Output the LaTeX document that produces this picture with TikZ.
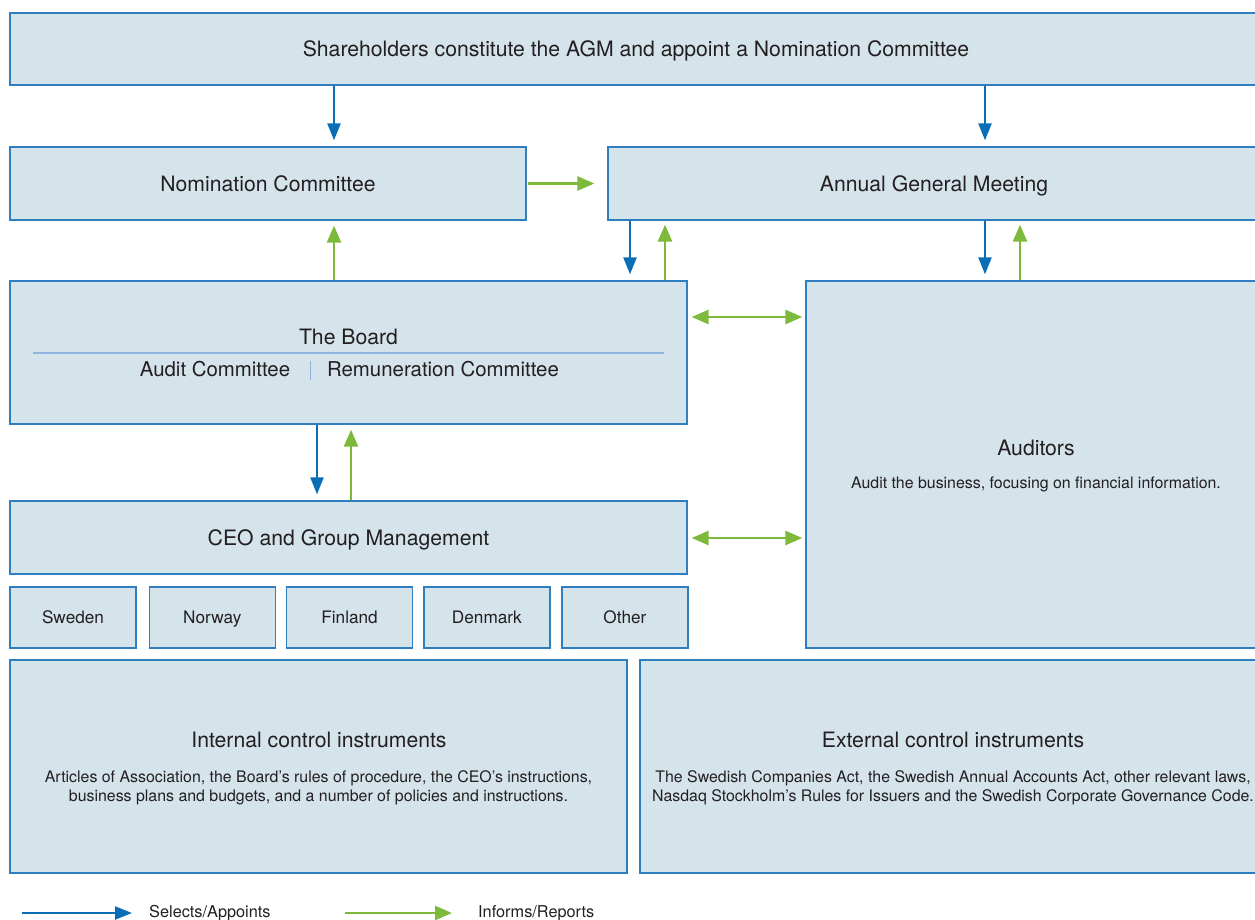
\documentclass[tikz,border=0pt]{standalone}
\usepackage{fontspec}
\setmainfont{TeX Gyre Heros}
\usetikzlibrary{arrows.meta,positioning}
\definecolor{gfill}{HTML}{D5E3EB}
\definecolor{gline}{HTML}{2E7EC0}
\definecolor{gblue}{HTML}{0A6EB7}
\definecolor{ggreen}{HTML}{7DBA3C}
\definecolor{gtext}{HTML}{231F20}
\definecolor{gsep}{HTML}{8DB4DE}

\begin{document}
\begin{tikzpicture}[x=1pt,y=-1pt, every node/.style={text=gtext,align=center,inner sep=0pt,text depth=0pt,font=\fontsize{21.2}{25}\selectfont}, box/.style={draw=gline,fill=gfill,line width=1.3pt}, land/.style={box,minimum width=126pt,minimum height=61pt,font=\fontsize{17.2}{20}\selectfont}, small/.style={font=\fontsize{15.9}{19.5}\selectfont}, para/.style={small,text depth={}}, sel/.style={-{Triangle[length=17pt,width=13pt]},gblue,line width=2.4pt}, inf/.style={-{Triangle[length=17pt,width=14pt]},ggreen,line width=2.6pt}, both/.style={inf,{Triangle[length=17pt,width=14pt]}-{Triangle[length=17pt,width=14pt]}}]
\useasboundingbox (0,0) rectangle (1255,920);
\node[box,minimum width=1252pt,minimum height=72pt] (sh) at (636,49) {Shareholders constitute the AGM and appoint a Nomination Committee};
\node[box,minimum width=516pt,minimum height=73pt] (nc) at (268,183.5) {Nomination Committee};
\node[box,minimum width=652pt,minimum height=73pt] (agm) at (934,183.5) {Annual General Meeting};
\node[box,minimum width=677pt,minimum height=143pt] (board) at (348.5,352.5) {};
\node (boardt) at (348.5,337) {The Board};
\node[font=\fontsize{20.4}{24}\selectfont] (audc) at (215,369) {Audit Committee};
\node[font=\fontsize{20.4}{24}\selectfont] (remc) at (443,369) {Remuneration Committee};
\draw[gsep,line width=1.2pt] ([xshift=24pt]board.west |- 0,353) -- ([xshift=-24pt]board.east |- 0,353);
\draw[gsep,line width=1pt] (310,361) -- (310,380);
\node[box,minimum width=677pt,minimum height=73pt] (ceo) at (348.5,537.5) {CEO and Group Management};
\node[land] (se) at (73,617.5) {Sweden};
\node[land,right=12pt of se] (no) {Norway};
\node[land,right=10pt of no] (fi) {Finland};
\node[land,right=10pt of fi] (dk) {Denmark};
\node[land,right=10.7pt of dk] (ot) {Other};
\node[box,minimum width=456pt,minimum height=367pt] (aud) at (1034,464.5) {};
\node (audt) at (1036,448) {Auditors};
\node[small] (auds) at (1036,483) {Audit the business, focusing on financial information.};
\node[box,minimum width=617pt,minimum height=213pt] (int) at (318.5,766.5) {};
\node (intt) at (319,740) {Internal control instruments};
\node[para] (ints) at (318.5,788) {Articles of Association, the Board's rules of procedure, the CEO’s instructions,\\business plans and budgets, and a number of policies and instructions.};
\node[box,minimum width=620pt,minimum height=213pt] (ext) at (950,766.5) {};
\node (extt) at (953,740) {External control instruments};
\node[para] (exts) at (953,788) {The Swedish Companies Act, the Swedish Annual Accounts Act, other relevant laws,\\Nasdaq Stockholm’s Rules for Issuers and the Swedish Corporate Governance Code.};
% connectors
\draw[sel,shorten >=6pt] (sh.south -| 334,0) -- (nc.north -| 334,0);
\draw[sel,shorten >=6pt] (sh.south -| 985,0) -- (agm.north -| 985,0);
\draw[inf,shorten <=1pt,shorten >=13pt] (nc.east) -- (agm.west);
\draw[inf,shorten >=5pt] (board.north -| 334,0) -- (nc.south -| 334,0);
\draw[sel,shorten >=6pt] (agm.south -| 630,0) -- (board.north -| 630,0);
\draw[inf,shorten >=4pt] (board.north -| 665,0) -- (agm.south -| 665,0);
\draw[sel,shorten >=6pt] (agm.south -| 985,0) -- (aud.north -| 985,0);
\draw[inf,shorten >=4pt] (aud.north -| 1020,0) -- (agm.south -| 1020,0);
\draw[both,shorten <=4pt,shorten >=3pt] (board.east |- 0,317) -- (aud.west |- 0,317);
\draw[sel,shorten >=6pt] (board.south -| 317,0) -- (ceo.north -| 317,0);
\draw[inf,shorten >=5pt] (ceo.north -| 351,0) -- (board.south -| 351,0);
\draw[both,shorten <=4pt,shorten >=3pt] (ceo.east |- 0,538) -- (aud.west |- 0,538);
% legend
\coordinate (selA) at (22,913);
\coordinate (selB) at (132,913);
\draw[sel] (selA) -- (selB);
\node[anchor=west,font=\fontsize{16.3}{19}\selectfont] (selT) at (149,911.5) {Selects/Appoints};
\coordinate (infA) at (345,913);
\coordinate (infB) at (452,913);
\draw[inf] (infA) -- (infB);
\node[anchor=west,font=\fontsize{16.3}{19}\selectfont] (infT) at (478,911.5) {Informs/Reports};
\end{tikzpicture}
\end{document}
